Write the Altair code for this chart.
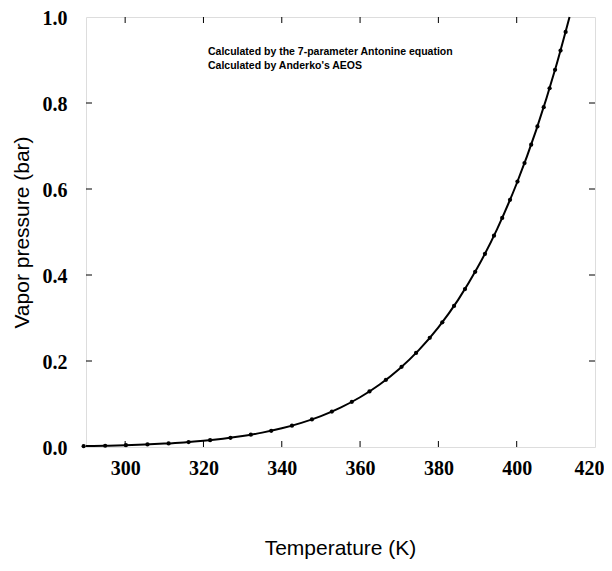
import altair as alt
import pandas as pd

# Curve (7-parameter Antoine equation)
curve_T = [290, 295, 300, 305, 310, 315, 320, 325, 330, 335, 340, 345, 350, 355,
           360, 365, 370, 375, 380, 385, 390, 395, 400, 405, 410, 413.5]
curve_P = [0.0021, 0.0029, 0.0041, 0.0057, 0.0079, 0.0107, 0.0144, 0.0192, 0.0254,
           0.0334, 0.0434, 0.0561, 0.0719, 0.0916, 0.1157, 0.1454, 0.1816, 0.2254,
           0.2783, 0.3416, 0.4172, 0.5068, 0.6128, 0.7375, 0.8835, 1.0]

# Points (Anderko's AEOS)
dot_T = [289.4, 294.9, 300.2, 305.7, 311.1, 316.2, 321.7, 326.9, 332.1, 337.3, 342.6,
         347.7, 352.8, 357.9, 362.4, 366.6, 370.6, 374.3, 377.8, 381.0, 384.0, 386.8,
         389.4, 391.9, 394.2, 396.3, 398.3, 400.2, 402.0, 403.7, 405.3, 406.9, 408.4,
         409.8, 411.2, 412.5]
dot_P = [0.0020, 0.0029, 0.0042, 0.0060, 0.0084, 0.0115, 0.0159, 0.0214, 0.0285,
         0.0377, 0.0496, 0.0642, 0.0823, 0.1050, 0.1292, 0.1563, 0.1864, 0.2188,
         0.2538, 0.2900, 0.3280, 0.3673, 0.4074, 0.4494, 0.4914, 0.5327, 0.5748,
         0.6174, 0.6603, 0.7031, 0.7456, 0.7902, 0.8343, 0.8772, 0.9220, 0.9654]

x_ticks = [300, 320, 340, 360, 380, 400]
y_ticks = [0.2, 0.4, 0.6, 0.8]
legend_lines = ["Calculated by the 7-parameter Antonine equation",
                "Calculated by Anderko's AEOS"]

W, H = 509, 430

curve_df = pd.DataFrame({"T": curve_T, "P": curve_P})
dot_df = pd.DataFrame({"T": dot_T, "P": dot_P})
xt_df = pd.DataFrame({"T": x_ticks})
yt_df = pd.DataFrame({"P": y_ticks})

xscale = alt.Scale(domain=[290, 420], nice=False, zero=False)
yscale = alt.Scale(domain=[0, 1.0], nice=False, zero=True)

xaxis = alt.Axis(values=[300, 320, 340, 360, 380, 400, 420], format="d",
                 ticks=False, grid=False, domain=False,
                 labelFont="Liberation Serif", labelFontWeight="bold", labelFontSize=20,
                 labelColor="black", labelPadding=11, labelFlush=1, labelFlushOffset=9,
                 title="Temperature (K)", titleFont="Liberation Sans",
                 titleFontWeight="normal", titleFontSize=21, titleColor="black",
                 titleX=254, titleY=101, titleBaseline="middle", titleAlign="center")
yaxis = alt.Axis(values=[0, 0.2, 0.4, 0.6, 0.8, 1.0], format=".1f",
                 ticks=False, grid=False, domain=False,
                 labelFont="Liberation Serif", labelFontWeight="bold", labelFontSize=20,
                 labelColor="black", labelPadding=19, labelFlush=False, labelOffset=1,
                 title="Vapor pressure (bar)", titleFont="Liberation Sans",
                 titleFontWeight="normal", titleFontSize=21, titleColor="black",
                 titleX=-64, titleY=215, titleBaseline="middle", titleAlign="center",
                 titleAngle=270)

line = alt.Chart(curve_df).mark_line(color="black", strokeWidth=2, interpolate="monotone").encode(
    x=alt.X("T:Q", scale=xscale, axis=xaxis),
    y=alt.Y("P:Q", scale=yscale, axis=yaxis),
)
dots = alt.Chart(dot_df).mark_circle(color="black", size=18, opacity=1).encode(
    x=alt.X("T:Q", scale=xscale),
    y=alt.Y("P:Q", scale=yscale),
)

tb = alt.Chart(xt_df).mark_rule(color="black", strokeWidth=1).encode(
    x=alt.X("T:Q", scale=xscale), y=alt.value(H), y2=alt.value(H - 6))
tt = alt.Chart(xt_df).mark_rule(color="black", strokeWidth=1).encode(
    x=alt.X("T:Q", scale=xscale), y=alt.value(0), y2=alt.value(6))
tl = alt.Chart(yt_df).mark_rule(color="black", strokeWidth=1).encode(
    y=alt.Y("P:Q", scale=yscale), x=alt.value(0), x2=alt.value(6))
tr = alt.Chart(yt_df).mark_rule(color="black", strokeWidth=1).encode(
    y=alt.Y("P:Q", scale=yscale), x=alt.value(W), x2=alt.value(W - 6))

text_style = dict(align="left", baseline="middle", font="Liberation Sans",
                  fontWeight="bold", fontSize=10.5, color="black")
leg1 = alt.Chart(pd.DataFrame({"label": [legend_lines[0]]})).mark_text(**text_style).encode(
    text="label:N", x=alt.value(122), y=alt.value(35))
leg2 = alt.Chart(pd.DataFrame({"label": [legend_lines[1]]})).mark_text(**text_style).encode(
    text="label:N", x=alt.value(122), y=alt.value(49))

chart = alt.layer(line, dots, tb, tt, tl, tr, leg1, leg2).properties(
    width=W, height=H,
    autosize=alt.AutoSizeParams(type="none"),
    padding={"left": 78, "top": 9, "right": 9, "bottom": 116},
).configure_view(stroke="black", strokeWidth=1.4).configure(background="white")

chart.save("out.html", embed_options={"renderer": "svg", "actions": False})
